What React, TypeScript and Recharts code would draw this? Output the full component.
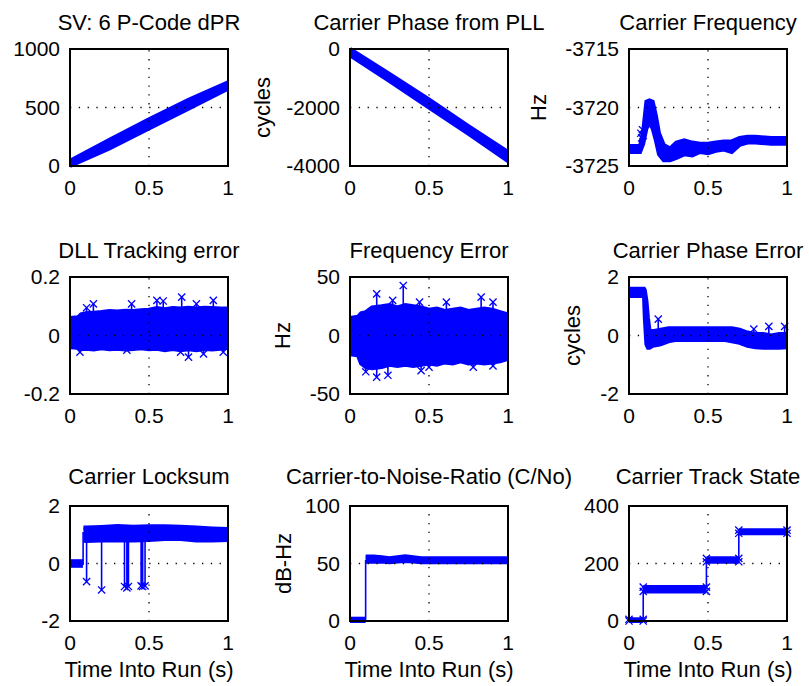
import React from 'react';
import { ComposedChart, XAxis, YAxis, Area, Line, Scatter, ReferenceLine } from 'recharts';

const BLUE = '#0000ff';
const FONT = '"Liberation Sans", Arial, Helvetica, sans-serif';

// ---------- shared ----------
const timeTicks = [0, 0.5, 1];
const xLabel = 'Time Into Run (s)';

// ---------- 1: SV 6 P-Code dPR ----------
const dprTime = [0, 0.25, 0.5, 0.75, 1];
const dprLow = [0, 150, 320, 490, 660];
const dprHigh = [45, 225, 400, 565, 715];

// ---------- 2: Carrier Phase from PLL ----------
const phTime = [0, 0.25, 0.5, 0.75, 1];
const phLow = [-220, -1100, -2000, -2900, -3830];
const phHigh = [0, -850, -1720, -2640, -3520];

// ---------- 3: Carrier Frequency ----------
const cfTime = [0, 0.07, 0.09, 0.11, 0.13, 0.15, 0.17, 0.19, 0.22, 0.26, 0.3, 0.35, 0.4, 0.45, 0.5, 0.55, 0.6, 0.65, 0.7, 0.75, 0.8, 0.9, 1];
const cfLow = [-3723.8, -3723.8, -3723.1, -3721.8, -3721.3, -3721.8, -3722.8, -3724.0, -3724.5, -3724.5, -3724.3, -3724.0, -3724.1, -3723.8, -3723.9, -3723.7, -3723.6, -3723.8, -3723.2, -3723.0, -3723.0, -3723.1, -3723.1];
const cfHigh = [-3723.3, -3723.3, -3722.0, -3719.5, -3719.4, -3719.5, -3720.7, -3722.2, -3723.2, -3723.5, -3723.0, -3722.8, -3723.0, -3723.1, -3723.1, -3723.0, -3722.9, -3722.9, -3722.6, -3722.5, -3722.5, -3722.6, -3722.6];
const cfMarkT = [0.075, 0.08, 0.085, 0.09];
const cfMarkV = [-3722.2, -3722.6, -3721.9, -3722.4];

// ---------- 4: DLL Tracking error ----------
const dllTime = [0, 0.05, 0.07, 0.1, 0.15, 0.2, 0.25, 0.3, 0.35, 0.4, 0.45, 0.5, 0.55, 0.6, 0.65, 0.7, 0.75, 0.8, 0.85, 0.9, 0.95, 1];
const dllHigh = [0.06, 0.062, 0.072, 0.076, 0.078, 0.08, 0.084, 0.082, 0.085, 0.084, 0.086, 0.088, 0.094, 0.09, 0.094, 0.092, 0.095, 0.092, 0.095, 0.094, 0.092, 0.092];
const dllLow = [-0.04, -0.042, -0.046, -0.045, -0.048, -0.044, -0.047, -0.045, -0.048, -0.046, -0.044, -0.047, -0.045, -0.05, -0.046, -0.05, -0.047, -0.05, -0.046, -0.048, -0.045, -0.042];
const dllOutT = [0.105, 0.148, 0.39, 0.55, 0.59, 0.707, 0.8, 0.907, 0.063, 0.36, 0.7, 0.75, 0.845, 0.97];
const dllOutV = [0.095, 0.108, 0.108, 0.12, 0.118, 0.131, 0.108, 0.12, -0.057, -0.05, -0.057, -0.074, -0.063, -0.057];

// ---------- 5: Frequency Error ----------
const feTime = [0, 0.05, 0.07, 0.1, 0.14, 0.2, 0.25, 0.3, 0.35, 0.4, 0.45, 0.5, 0.55, 0.6, 0.65, 0.7, 0.75, 0.8, 0.85, 0.9, 0.95, 1];
const feHigh = [15, 16, 19, 20, 24, 25, 26, 24, 26, 25, 24, 22, 23, 21, 22, 23, 21, 22, 23, 22, 20, 18];
const feLow = [-16, -17, -24, -27, -28, -27, -25, -26, -25, -26, -25, -24, -25, -23, -24, -22, -24, -23, -24, -23, -22, -20];
const feOutT = [0.169, 0.27, 0.337, 0.44, 0.61, 0.83, 0.905, 0.1, 0.169, 0.24, 0.45, 0.5, 0.78, 0.905];
const feOutV = [35.6, 30, 42.7, 28.5, 28.5, 32.8, 28.5, -31, -35.6, -34, -30, -27, -27, -26];

// ---------- 6: Carrier Phase Error ----------
const cpeTime = [0, 0.05, 0.095, 0.1, 0.11, 0.12, 0.13, 0.15, 0.2, 0.25, 0.3, 0.4, 0.5, 0.6, 0.65, 0.7, 0.75, 0.8, 0.85, 0.9, 0.95, 1];
const cpeHigh = [1.6, 1.6, 1.6, 1.55, 1.2, 0.6, 0.15, 0.15, 0.2, 0.25, 0.25, 0.25, 0.25, 0.25, 0.25, 0.2, 0.1, 0.05, 0.05, 0.0, 0.05, 0.05];
const cpeLow = [1.35, 1.35, 1.35, 0.6, -0.3, -0.42, -0.42, -0.35, -0.3, -0.2, -0.15, -0.15, -0.15, -0.15, -0.2, -0.25, -0.35, -0.4, -0.42, -0.42, -0.42, -0.4];
const cpeOutT = [0.185, 0.79, 0.885, 0.985];
const cpeOutV = [0.56, 0.22, 0.31, 0.31];

// ---------- 7: Carrier Locksum ----------
const lsPreTime = [0, 0.082];
const lsPreLow = [-0.08, -0.08];
const lsPreHigh = [0.08, 0.08];
const lsTime = [0.085, 0.1, 0.2, 0.3, 0.4, 0.5, 0.6, 0.7, 0.8, 0.9, 1];
const lsHigh = [1.25, 1.25, 1.27, 1.3, 1.28, 1.3, 1.3, 1.28, 1.25, 1.22, 1.2];
const lsLow = [0.8, 0.78, 0.8, 0.8, 0.8, 0.82, 0.85, 0.85, 0.8, 0.8, 0.82];
const lsDipT = [0.083, 0.105, 0.2, 0.345, 0.36, 0.37, 0.45, 0.46, 0.475];
const lsDipV = [-0.05, -0.63, -0.92, -0.8, -0.85, -0.8, -0.78, -0.8, -0.78];

// ---------- 8: C/No ----------
const cnPreTime = [0, 0.099];
const cnPreLow = [0, 0];
const cnPreHigh = [2, 2];
const cnTime = [0.099, 0.15, 0.2, 0.25, 0.3, 0.35, 0.4, 0.45, 0.5, 0.6, 0.7, 0.8, 0.9, 1];
const cnHigh = [56, 56, 55.5, 54.5, 55.5, 56.3, 55.5, 54.5, 54.5, 54.5, 54.5, 54.5, 54.5, 54.5];
const cnLow = [51.5, 51.5, 51.8, 51.2, 51.8, 52.2, 51.8, 51, 51, 51, 51, 51, 51, 51];
const cnRiseT = [0.099];
const cnRiseV = [53];

// ---------- 9: Carrier Track State ----------
const tsTimes = [0, 0.09, 0.49, 0.695, 1];
const tsLow = [0, 103, 206, 305];
const tsHigh = [6, 118, 218, 316];

// ---------- helpers ----------
type Row = { t: number; r?: [number, number]; v?: number | null };
const band = (t: number[], lo: number[], hi: number[]): Row[] => t.map((x, i) => ({ t: x, r: [lo[i], hi[i]] }));
const points = (t: number[], v: number[]): Row[] => t.map((x, i) => ({ t: x, v: v[i] }));
const spikes = (t: number[], v: number[], base: number[] | number): Row[] => {
  const out: Row[] = [];
  t.forEach((x, i) => {
    const b = Array.isArray(base) ? base[i] : base;
    out.push({ t: x, v: b }, { t: x, v: v[i] }, { t: x, v: null });
  });
  return out;
};

const fmt = (v: number) => String(v);

const XMark = (props: any) => {
  const { cx, cy } = props;
  if (cx == null || cy == null) return null;
  const s = 3.6;
  return (
    <path
      d={`M${cx - s},${cy - s}L${cx + s},${cy + s}M${cx - s},${cy + s}L${cx + s},${cy - s}`}
      stroke={BLUE}
      strokeWidth={1.3}
      fill="none"
    />
  );
};

const PW = 158;
const ML = 100;
const MT = 20;
const MR = 10;
const XH = 40;

type PanelProps = {
  left: number;
  top: number;
  ph: number;
  yDomain: [number, number];
  yTicks: number[];
  bands: Row[][];
  lines?: Row[];
  marks?: Row[];
};

function Panel({ left, top, ph, yDomain, yTicks, bands, lines, marks }: PanelProps) {
  const tickStyle = { fill: '#000', fontSize: 21, fontFamily: FONT };
  return (
    <>
      <div style={{ position: 'absolute', left: left - ML, top: top - MT, zIndex: 1 }}>
        <ComposedChart
          width={ML + PW + MR}
          height={MT + ph + XH}
          margin={{ top: MT, right: MR, bottom: 0, left: 0 }}
        >
          <XAxis
            type="number"
            dataKey="t"
            domain={[0, 1]}
            ticks={timeTicks}
            interval={0}
            axisLine={false}
            tickLine={false}
            tickSize={6}
            tickMargin={8}
            height={XH}
            tick={tickStyle}
            tickFormatter={fmt}
          />
          <YAxis
            type="number"
            domain={yDomain}
            ticks={yTicks}
            interval={0}
            width={ML}
            axisLine={false}
            tickLine={false}
            tickSize={6}
            tickMargin={4}
            tick={tickStyle}
            tickFormatter={fmt}
          />
          <ReferenceLine x={0.5} stroke="#000" strokeWidth={1.3} strokeDasharray="1.3 7.5" />
          <ReferenceLine y={yTicks[1]} stroke="#000" strokeWidth={1.3} strokeDasharray="1.3 7.5" />
          {bands.map((b, i) => (
            <Area
              key={'b' + i}
              data={b}
              dataKey="r"
              type="linear"
              fill={BLUE}
              fillOpacity={1}
              stroke={BLUE}
              strokeWidth={4}
              dot={false}
              activeDot={false}
              isAnimationActive={false}
            />
          ))}
          {lines && (
            <Line
              data={lines}
              dataKey="v"
              type="linear"
              stroke={BLUE}
              strokeWidth={1.6}
              dot={false}
              activeDot={false}
              connectNulls={false}
              isAnimationActive={false}
            />
          )}
          {marks && (
            <Scatter data={marks} dataKey="v" shape={(p: any) => <XMark {...p} />} isAnimationActive={false} />
          )}
        </ComposedChart>
      </div>
      {/* axes box (layout frame around the plotting area), drawn on top */}
      <div
        style={{
          position: 'absolute',
          left: left - 1,
          top: top - 1,
          width: PW + 2,
          height: ph + 2,
          borderStyle: 'solid',
          borderWidth: 2,
          borderColor: '#000000',
          boxSizing: 'border-box',
          zIndex: 5,
          pointerEvents: 'none',
        }}
      />
    </>
  );
}

const colL = [70, 350, 629];
const rowT = [49, 277, 506];
const rowH = [117, 117, 115];

const titles = [
  ['SV: 6 P-Code dPR', 'Carrier Phase from PLL', 'Carrier Frequency'],
  ['DLL Tracking error', 'Frequency Error', 'Carrier Phase Error'],
  ['Carrier Locksum', 'Carrier-to-Noise-Ratio (C/No)', 'Carrier Track State'],
];
const titleBase = [30, 258, 484];
const yLabels: { text: string; row: number; col: number; x: number }[] = [
  { text: 'cycles', row: 0, col: 1, x: 270 },
  { text: 'Hz', row: 0, col: 2, x: 546 },
  { text: 'Hz', row: 1, col: 1, x: 290 },
  { text: 'cycles', row: 1, col: 2, x: 580 },
  { text: 'dB-Hz', row: 2, col: 1, x: 291 },
];

export default function App() {
  const tsBands = tsLow.map((lo, i) => band([tsTimes[i], tsTimes[i + 1]], [lo, lo], [tsHigh[i], tsHigh[i]]));
  const tsMid = tsLow.map((lo, i) => (lo + tsHigh[i]) / 2);
  const tsRise = spikes(tsTimes.slice(1, 4), tsMid.slice(1), tsMid.slice(0, 3));
  const tsMarkRows: Row[] = [];
  tsLow.forEach((lo, i) => {
    [tsTimes[i], tsTimes[i + 1]].forEach((t) => {
      tsMarkRows.push({ t, v: lo }, { t, v: tsHigh[i] });
    });
  });

  return (
    <div
      style={{
        position: 'absolute',
        left: 0,
        top: 0,
        width: 809,
        height: 686,
        background: '#fff',
        fontFamily: FONT,
        overflow: 'hidden',
      }}
    >
      {/* Row 1 */}
      <Panel left={colL[0]} top={rowT[0]} ph={rowH[0]} yDomain={[0, 1000]} yTicks={[0, 500, 1000]}
        bands={[band(dprTime, dprLow, dprHigh)]} />
      <Panel left={colL[1]} top={rowT[0]} ph={rowH[0]} yDomain={[-4000, 0]} yTicks={[-4000, -2000, 0]}
        bands={[band(phTime, phLow, phHigh)]} />
      <Panel left={colL[2]} top={rowT[0]} ph={rowH[0]} yDomain={[-3725, -3715]} yTicks={[-3725, -3720, -3715]}
        bands={[band(cfTime, cfLow, cfHigh)]} marks={points(cfMarkT, cfMarkV)} />
      {/* Row 2 */}
      <Panel left={colL[0]} top={rowT[1]} ph={rowH[1]} yDomain={[-0.2, 0.2]} yTicks={[-0.2, 0, 0.2]}
        bands={[band(dllTime, dllLow, dllHigh)]} lines={spikes(dllOutT, dllOutV, 0)} marks={points(dllOutT, dllOutV)} />
      <Panel left={colL[1]} top={rowT[1]} ph={rowH[1]} yDomain={[-50, 50]} yTicks={[-50, 0, 50]}
        bands={[band(feTime, feLow, feHigh)]} lines={spikes(feOutT, feOutV, 0)} marks={points(feOutT, feOutV)} />
      <Panel left={colL[2]} top={rowT[1]} ph={rowH[1]} yDomain={[-2, 2]} yTicks={[-2, 0, 2]}
        bands={[band(cpeTime, cpeLow, cpeHigh)]} lines={spikes(cpeOutT, cpeOutV, 0)} marks={points(cpeOutT, cpeOutV)} />
      {/* Row 3 */}
      <Panel left={colL[0]} top={rowT[2]} ph={rowH[2]} yDomain={[-2, 2]} yTicks={[-2, 0, 2]}
        bands={[band(lsPreTime, lsPreLow, lsPreHigh), band(lsTime, lsLow, lsHigh)]}
        lines={spikes(lsDipT, lsDipV, 1.1)} marks={points(lsDipT.slice(1), lsDipV.slice(1))} />
      <Panel left={colL[1]} top={rowT[2]} ph={rowH[2]} yDomain={[0, 100]} yTicks={[0, 50, 100]}
        bands={[band(cnPreTime, cnPreLow, cnPreHigh), band(cnTime, cnLow, cnHigh)]}
        lines={spikes(cnRiseT, cnRiseV, 1)} />
      <Panel left={colL[2]} top={rowT[2]} ph={rowH[2]} yDomain={[0, 400]} yTicks={[0, 200, 400]}
        bands={tsBands} lines={tsRise} marks={tsMarkRows} />

      <svg
        width={809}
        height={686}
        style={{ position: 'absolute', left: 0, top: 0, pointerEvents: 'none', zIndex: 6 }}
      >
        {titles.map((row, r) =>
          row.map((txt, c) => (
            <text
              key={`t${r}${c}`}
              x={colL[c] + PW / 2}
              y={titleBase[r]}
              textAnchor="middle"
              fontSize={22}
              fontFamily={FONT}
              fill="#000"
            >
              {txt}
            </text>
          ))
        )}
        {yLabels.map((l, i) => (
          <text
            key={`y${i}`}
            transform={`translate(${l.x},${rowT[l.row] + rowH[l.row] / 2}) rotate(-90)`}
            textAnchor="middle"
            fontSize={22}
            fontFamily={FONT}
            fill="#000"
          >
            {l.text}
          </text>
        ))}
        {colL.map((x, c) => (
          <text key={`x${c}`} x={x + PW / 2} y={677} textAnchor="middle" fontSize={22} fontFamily={FONT} fill="#000">
            {xLabel}
          </text>
        ))}
      </svg>
    </div>
  );
}
